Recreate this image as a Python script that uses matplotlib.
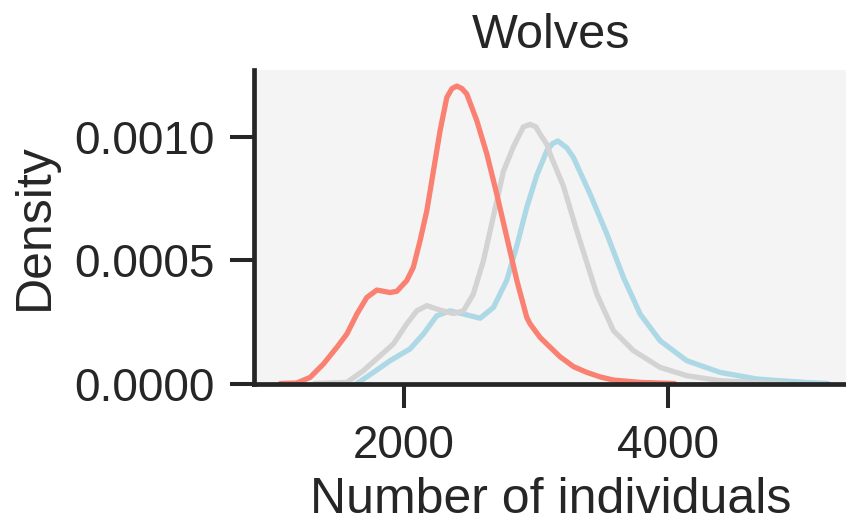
import numpy as np
import matplotlib
matplotlib.use('Agg')
import matplotlib.pyplot as plt

# density curves (x = number of individuals, y = density)
red_x = [1067, 1191, 1292, 1393, 1494, 1570, 1646, 1721, 1797, 1897, 1948, 2023, 2073, 2124, 2175,
         2225, 2275, 2326, 2365, 2402, 2440, 2477, 2553, 2629, 2704, 2780, 2856, 2931, 2956, 3032,
         3082, 3183, 3285, 3385, 3490, 3586, 3788, 4048]
red_y = [0.000002, 0.000004, 0.0000267, 0.0000809, 0.000148, 0.000202, 0.000283, 0.000350, 0.000380,
         0.000370, 0.000375, 0.000418, 0.000472, 0.000580, 0.000701, 0.000862, 0.001024, 0.001159,
         0.001195, 0.001205, 0.001195, 0.001173, 0.001065, 0.000930, 0.000768, 0.000593, 0.000418,
         0.000269, 0.000243, 0.000188, 0.000162, 0.000110, 0.000070, 0.000047, 0.000028, 0.000016,
         0.0000065, 0.000002]

grey_x = [1327, 1570, 1695, 1821, 1922, 2023, 2099, 2175, 2275, 2376, 2452, 2527, 2603, 2679, 2754,
          2830, 2905, 2956, 3000, 3032, 3082, 3107, 3208, 3309, 3460, 3586, 3737, 3939, 4141, 4393,
          4721, 4900]
grey_y = [0.000002, 0.0000065, 0.0000538, 0.000114, 0.000162, 0.000243, 0.000296, 0.000317, 0.000299,
          0.000285, 0.000296, 0.000364, 0.000499, 0.000680, 0.000860, 0.000960, 0.001040, 0.001050,
          0.001040, 0.001010, 0.000970, 0.000930, 0.000800, 0.000620, 0.000364, 0.000216, 0.000135,
          0.0000673, 0.0000336, 0.0000133, 0.000004, 0.000001]

blue_x = [1646, 1771, 1897, 2048, 2149, 2250, 2351, 2452, 2578, 2679, 2780, 2856, 2931, 3007, 3082,
          3125, 3165, 3234, 3284, 3410, 3536, 3662, 3788, 3939, 4141, 4393, 4671, 4847, 5050, 5209]
blue_y = [0.000002, 0.0000469, 0.0000942, 0.000142, 0.000202, 0.000276, 0.000296, 0.000283, 0.000266,
          0.000310, 0.000420, 0.000560, 0.000715, 0.000845, 0.000943, 0.000972, 0.000983, 0.000955,
          0.000916, 0.000768, 0.000607, 0.000431, 0.000283, 0.000175, 0.0000942, 0.0000469, 0.0000202,
          0.0000133, 0.000006, 0.000002]

x_ticks = [2000, 4000]
y_ticks = [0.0, 0.0005, 0.0010]

plt.rcParams['font.family'] = ['Liberation Sans', 'DejaVu Sans']
text_color = '#262626'

fig = plt.figure(figsize=(8.46, 5.23), dpi=100)
ax = fig.add_axes([254 / 846, 139 / 523, 594 / 846, 314 / 523])
ax.set_facecolor('#f4f4f4')

ax.plot(blue_x, blue_y, color='#add8e6', lw=3.8, solid_capstyle='round', solid_joinstyle='round')
ax.plot(grey_x, grey_y, color='#d3d3d3', lw=3.8, solid_capstyle='round', solid_joinstyle='round')
ax.plot(red_x, red_y, color='#fa8072', lw=3.8, solid_capstyle='round', solid_joinstyle='round')

ax.set_xlim(868, 5360)
ax.set_ylim(0, 0.00127)
ax.set_xticks(x_ticks)
ax.set_yticks(y_ticks)
ax.set_yticklabels(['{0:.4f}'.format(v) for v in y_ticks])

for side in ['top', 'right']:
    ax.spines[side].set_visible(False)
for side in ['left', 'bottom']:
    ax.spines[side].set_linewidth(3.4)
    ax.spines[side].set_color(text_color)

ax.tick_params(length=17, width=2.9, color=text_color, labelcolor=text_color,
               labelsize=33, pad=11.5)

ax.set_xlabel('Number of individuals', fontsize=36, color=text_color, labelpad=7)
ax.set_ylabel('Density', fontsize=36, color=text_color, labelpad=12)
ax.set_title('Wolves', fontsize=35, color=text_color, pad=16)

fig.savefig('out.png', dpi=100)
